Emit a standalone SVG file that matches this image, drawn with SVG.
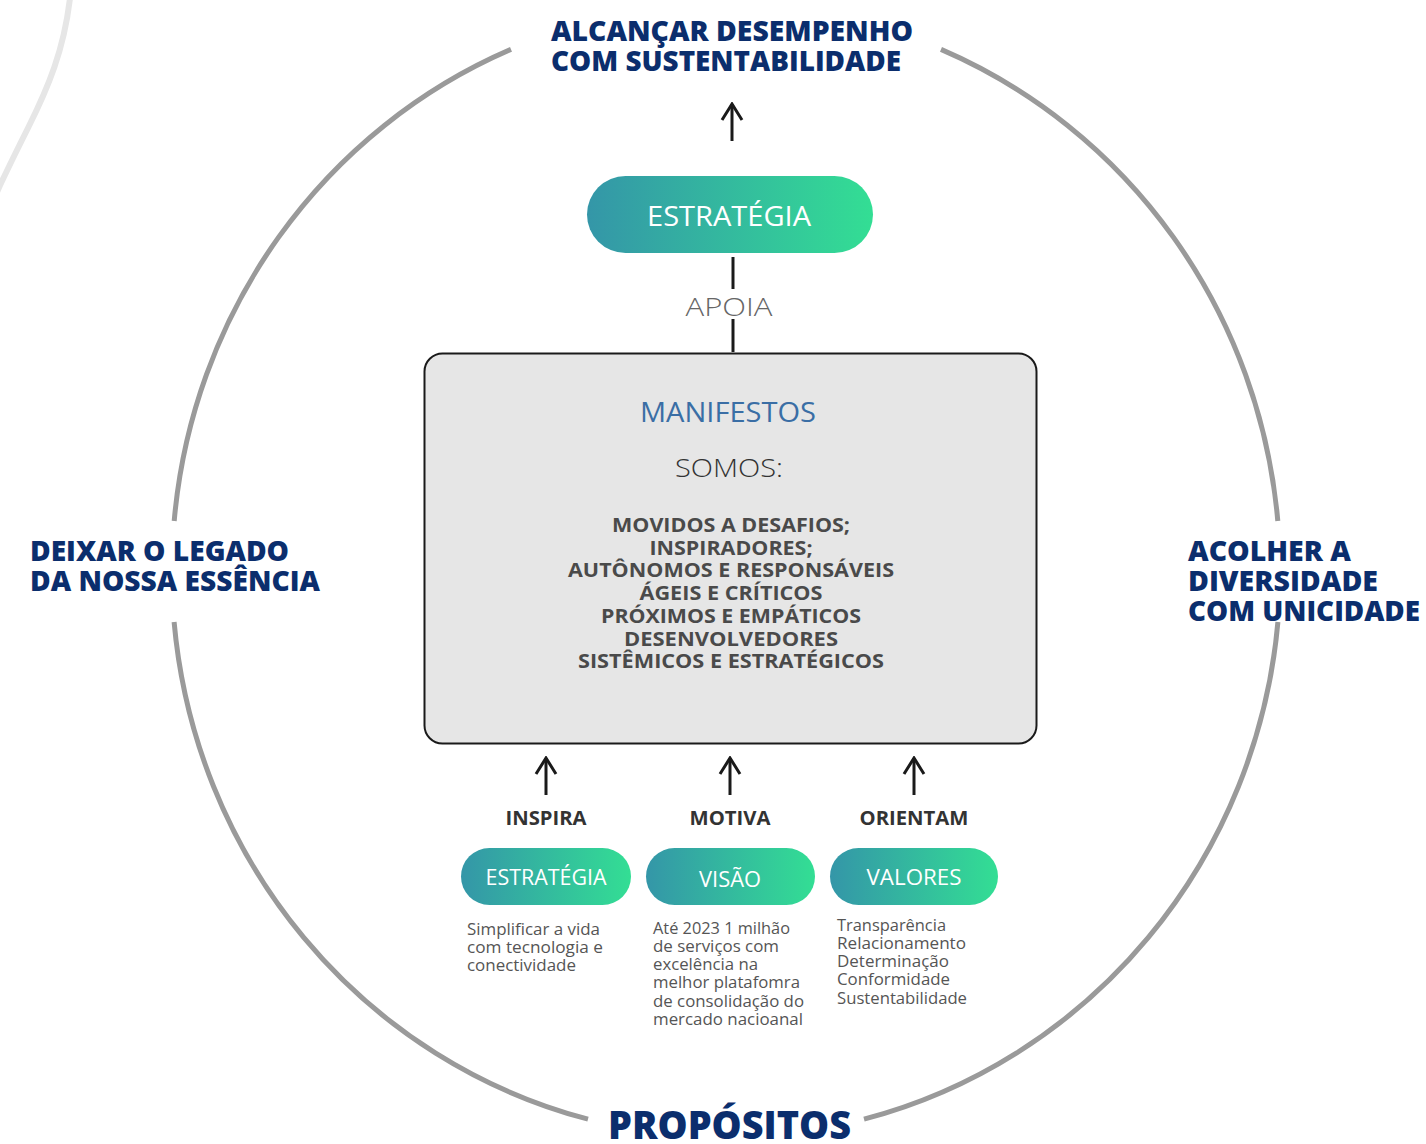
<svg xmlns="http://www.w3.org/2000/svg" width="1426" height="1144" viewBox="0 0 1426 1144">
<style>
.ring{fill:none;stroke:#9a9a9a;stroke-width:5}
.goal{font-family:"Open Sans","Liberation Sans",sans-serif;font-weight:800;fill:#0b2e6d;font-size:29px}
.pill{fill:url(#g)}
.pt{font-family:"Open Sans","Liberation Sans",sans-serif;fill:#ffffff;text-anchor:middle}
.con{stroke:#1a1a1a;stroke-width:3;fill:none}
.arr{stroke:#1a1a1a;stroke-width:3;fill:none;marker-end:url(#chev)}
.lbl{font-family:"Open Sans","Liberation Sans",sans-serif;font-weight:700;fill:#333333;font-size:19px;text-anchor:middle}
.item{font-family:"Open Sans","Liberation Sans",sans-serif;font-weight:700;fill:#4a4a4a;font-size:19px;text-anchor:middle}
.desc{font-family:"Open Sans","Liberation Sans",sans-serif;font-weight:400;fill:#555555;font-size:16px}
</style>
<defs>
<linearGradient id="g" x1="0" y1="0" x2="1" y2="0">
<stop offset="0" stop-color="#3496a8"/>
<stop offset="1" stop-color="#33de94"/>
</linearGradient>
<marker id="chev" markerUnits="userSpaceOnUse" viewBox="0 0 20 24" markerWidth="20" markerHeight="24" refX="18" refY="12" orient="auto">
<path d="M2,2 L18,12 L2,22" fill="none" stroke="#1a1a1a" stroke-width="3"/>
</marker>
</defs>
<rect width="1426" height="1144" fill="#ffffff"/>
<path d="M70,-2 C64,50 48,88 28,128 S6,172 -3,192" fill="none" stroke="#e6e6e6" stroke-width="6"/>
<g id="ring">
<path class="ring" d="M511,49.4 A554,566 0 0 0 174.2,521"/>
<path class="ring" d="M174.1,622 A554,566 0 0 0 588,1119.2"/>
<path class="ring" d="M864,1119.2 A554,566 0 0 0 1277.9,622"/>
<path class="ring" d="M1277.8,521 A554,566 0 0 0 941,49.4"/>
</g>
<g id="goal-top">
<text class="goal" x="551" y="41" textLength="362" lengthAdjust="spacingAndGlyphs">ALCANÇAR DESEMPENHO</text>
<text class="goal" x="551" y="71" textLength="350" lengthAdjust="spacingAndGlyphs">COM SUSTENTABILIDADE</text>
</g>
<g id="goal-left">
<text class="goal" x="30" y="561" textLength="259" lengthAdjust="spacingAndGlyphs">DEIXAR O LEGADO</text>
<text class="goal" x="30" y="591" textLength="290" lengthAdjust="spacingAndGlyphs">DA NOSSA ESSÊNCIA</text>
</g>
<g id="goal-right">
<text class="goal" x="1188" y="561" textLength="163" lengthAdjust="spacingAndGlyphs">ACOLHER A</text>
<text class="goal" x="1188" y="591" textLength="190" lengthAdjust="spacingAndGlyphs">DIVERSIDADE</text>
<text class="goal" x="1188" y="621" textLength="232" lengthAdjust="spacingAndGlyphs">COM UNICIDADE</text>
</g>
<g id="propositos">
<text class="goal" x="608" y="1139" style="font-size:38px" textLength="243" lengthAdjust="spacingAndGlyphs">PROPÓSITOS</text>
</g>
<g id="connectors">
<line class="arr" x1="732" y1="141" x2="732" y2="104"/>
<line class="con" x1="733" y1="257" x2="733" y2="289"/>
<line class="con" x1="733" y1="319" x2="733" y2="352"/>
<text x="729" y="316" style="font-family:'Open Sans','Liberation Sans',sans-serif;font-weight:300;font-size:26px;fill:#666666;text-anchor:middle" textLength="87" lengthAdjust="spacingAndGlyphs">APOIA</text>
<line class="arr" x1="546" y1="795" x2="546" y2="758"/>
<line class="arr" x1="730" y1="795" x2="730" y2="758"/>
<line class="arr" x1="914" y1="795" x2="914" y2="758"/>
<text class="lbl" x="546" y="825" textLength="81" lengthAdjust="spacingAndGlyphs">INSPIRA</text>
<text class="lbl" x="730" y="825" textLength="81" lengthAdjust="spacingAndGlyphs">MOTIVA</text>
<text class="lbl" x="914" y="825" textLength="109" lengthAdjust="spacingAndGlyphs">ORIENTAM</text>
</g>
<g id="estrategia-top">
<rect class="pill" x="587" y="176" width="286" height="77" rx="38.5"/>
<text class="pt" x="729" y="226" style="font-size:28px;font-weight:400" textLength="164" lengthAdjust="spacingAndGlyphs">ESTRATÉGIA</text>
</g>
<g id="manifestos">
<rect x="424.5" y="353.5" width="612" height="390" rx="18" fill="#e6e6e6" stroke="#1a1a1a" stroke-width="2"/>
<text x="728" y="422" style="font-family:'Open Sans','Liberation Sans',sans-serif;font-size:28px;fill:#3a6ea5;text-anchor:middle" textLength="176" lengthAdjust="spacingAndGlyphs">MANIFESTOS</text>
<text x="729" y="477" style="font-family:'Open Sans','Liberation Sans',sans-serif;font-weight:300;font-size:26px;fill:#333333;text-anchor:middle" textLength="108" lengthAdjust="spacingAndGlyphs">SOMOS:</text>
<text class="item" x="731" y="532" textLength="238" lengthAdjust="spacingAndGlyphs">MOVIDOS A DESAFIOS;</text>
<text class="item" x="731" y="555" textLength="163" lengthAdjust="spacingAndGlyphs">INSPIRADORES;</text>
<text class="item" x="731" y="577" textLength="326" lengthAdjust="spacingAndGlyphs">AUTÔNOMOS E RESPONSÁVEIS</text>
<text class="item" x="731" y="600" textLength="183" lengthAdjust="spacingAndGlyphs">ÁGEIS E CRÍTICOS</text>
<text class="item" x="731" y="623" textLength="260" lengthAdjust="spacingAndGlyphs">PRÓXIMOS E EMPÁTICOS</text>
<text class="item" x="731" y="646" textLength="214" lengthAdjust="spacingAndGlyphs">DESENVOLVEDORES</text>
<text class="item" x="731" y="668" textLength="306" lengthAdjust="spacingAndGlyphs">SISTÊMICOS E ESTRATÉGICOS</text>
</g>
<g id="estrategia">
<rect class="pill" x="461" y="848" width="170" height="57" rx="28.5"/>
<text class="pt" x="546" y="885" style="font-size:22px" textLength="121" lengthAdjust="spacingAndGlyphs">ESTRATÉGIA</text>
<text class="desc" x="467" y="935" textLength="133" lengthAdjust="spacingAndGlyphs">Simplificar a vida</text>
<text class="desc" x="467" y="953" textLength="136" lengthAdjust="spacingAndGlyphs">com tecnologia e</text>
<text class="desc" x="467" y="971" textLength="109" lengthAdjust="spacingAndGlyphs">conectividade</text>
</g>
<g id="visao">
<rect class="pill" x="646" y="848" width="169" height="57" rx="28.5"/>
<text class="pt" x="730" y="887" style="font-size:22px" textLength="62" lengthAdjust="spacingAndGlyphs">VISÃO</text>
<text class="desc" x="653" y="934" textLength="137" lengthAdjust="spacingAndGlyphs">Até 2023 1 milhão</text>
<text class="desc" x="653" y="952" textLength="126" lengthAdjust="spacingAndGlyphs">de serviços com</text>
<text class="desc" x="653" y="970" textLength="105" lengthAdjust="spacingAndGlyphs">excelência na</text>
<text class="desc" x="653" y="988" textLength="147" lengthAdjust="spacingAndGlyphs">melhor platafomra</text>
<text class="desc" x="653" y="1007" textLength="151" lengthAdjust="spacingAndGlyphs">de consolidação do</text>
<text class="desc" x="653" y="1025" textLength="150" lengthAdjust="spacingAndGlyphs">mercado nacioanal</text>
</g>
<g id="valores">
<rect class="pill" x="830" y="848" width="168" height="57" rx="28.5"/>
<text class="pt" x="914" y="885" style="font-size:22px" textLength="95" lengthAdjust="spacingAndGlyphs">VALORES</text>
<text class="desc" x="837" y="931" textLength="109" lengthAdjust="spacingAndGlyphs">Transparência</text>
<text class="desc" x="837" y="949" textLength="129" lengthAdjust="spacingAndGlyphs">Relacionamento</text>
<text class="desc" x="837" y="967" textLength="112" lengthAdjust="spacingAndGlyphs">Determinação</text>
<text class="desc" x="837" y="985" textLength="113" lengthAdjust="spacingAndGlyphs">Conformidade</text>
<text class="desc" x="837" y="1004" textLength="130" lengthAdjust="spacingAndGlyphs">Sustentabilidade</text>
</g>
</svg>
